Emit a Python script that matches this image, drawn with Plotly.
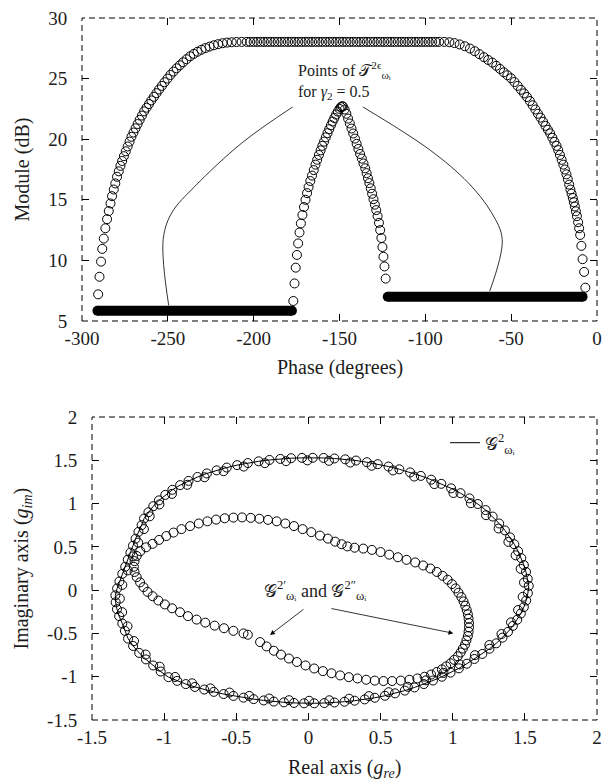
import plotly.graph_objects as go

# ---------------- Top panel data: Module (dB) vs Phase (degrees) ----------------
arc_left_phase = [-290.6, -289.8, -288.9, -288.2, -287.3, -286.4, -285.4, -284.4, -283.4, -282.5,
                  -281.5, -280.6, -279.6, -278.6, -277.6, -276.6, -275.6, -274.5, -273.4, -272.3,
                  -271.2, -270.0, -268.8, -267.6, -266.4, -265.1, -263.8, -262.4, -261.0, -259.6,
                  -258.1, -256.6, -255.1, -253.5, -251.9, -250.2, -248.5, -246.7, -244.9, -243.0,
                  -241.1, -239.1, -237.0, -234.9, -232.7, -230.4, -228.1, -225.7, -223.2, -220.7,
                  -218.1, -215.5, -212.8, -210.0, -207.0]
arc_left_module = [7.2, 8.65, 9.9, 10.95, 11.8, 12.65, 13.4, 14.07, 14.7, 15.3,
                   15.85, 16.35, 16.9, 17.35, 17.8, 18.2, 18.6, 19.0, 19.4, 19.8,
                   20.2, 20.55, 20.9, 21.25, 21.6, 21.95, 22.3, 22.6, 22.9, 23.2,
                   23.5, 23.8, 24.1, 24.4, 24.7, 25.0, 25.3, 25.58, 25.85, 26.1,
                   26.35, 26.6, 26.84, 27.04, 27.22, 27.38, 27.52, 27.64, 27.75, 27.84,
                   27.92, 27.97, 28.0, 28.02, 28.03]
arc_top_phase = [-204, -202, -200, -198, -196, -194, -192, -190, -188, -186, -184, -182, -180, -178,
                 -176, -174, -172, -170, -168, -166, -164, -162, -160, -158, -156, -154, -152, -150,
                 -148, -146, -144, -142, -140, -138, -136, -134, -132, -130, -128, -126, -124, -122,
                 -120, -118, -116, -114, -112, -110, -108, -106, -104, -102, -100, -98, -96, -94, -92]
arc_top_module = [28.03, 28.03, 28.03, 28.03, 28.03, 28.03, 28.03, 28.03, 28.03, 28.03, 28.03, 28.03,
                  28.03, 28.03, 28.03, 28.03, 28.03, 28.03, 28.03, 28.03, 28.03, 28.03, 28.03, 28.03,
                  28.03, 28.03, 28.03, 28.03, 28.03, 28.03, 28.03, 28.03, 28.03, 28.03, 28.03, 28.03,
                  28.03, 28.03, 28.03, 28.03, 28.03, 28.03, 28.03, 28.03, 28.03, 28.03, 28.03, 28.03,
                  28.03, 28.03, 28.03, 28.03, 28.03, 28.03, 28.03, 28.03, 28.03]
arc_right_phase = [-89.0, -86.0, -83.0, -80.0, -77.0, -74.0, -71.2, -68.5, -65.9, -63.4,
                   -61.0, -58.7, -56.5, -54.3, -52.2, -50.1, -48.1, -46.2, -44.3, -42.5,
                   -40.8, -39.1, -37.5, -35.9, -34.4, -32.9, -31.4, -30.0, -28.6, -27.3,
                   -26.0, -24.8, -23.6, -22.6, -21.6, -20.6, -19.6, -18.7, -17.8, -17.0,
                   -16.2, -15.5, -14.8, -14.1, -13.5, -12.9, -12.3, -11.7, -11.0, -10.4,
                   -9.8, -9.1, -8.4, -7.5, -6.8]
arc_right_module = [28.03, 28.0, 27.93, 27.82, 27.67, 27.48, 27.26, 27.02, 26.77, 26.54,
                    26.32, 26.06, 25.8, 25.52, 25.28, 25.03, 24.72, 24.4, 24.08, 23.78,
                    23.48, 23.15, 22.8, 22.45, 22.1, 21.78, 21.44, 21.1, 20.78, 20.48,
                    20.12, 19.78, 19.45, 19.1, 18.7, 18.3, 17.9, 17.5, 17.1, 16.7,
                    16.25, 15.85, 15.5, 15.15, 14.8, 14.45, 14.05, 13.65, 13.15, 12.65,
                    12.1, 11.2, 10.1, 9.05, 7.75]

peak_left_phase = [-176.9, -176.2, -175.5, -174.8, -174.1, -173.3, -172.5, -171.6, -170.7, -169.8,
                   -168.9, -168.0, -167.0, -166.0, -165.0, -164.0, -163.0, -162.0, -161.0, -160.0,
                   -159.0, -158.0, -157.0, -156.0, -155.0, -154.0, -153.0, -152.0, -151.0, -150.0,
                   -149.2, -148.5]
peak_left_module = [6.65, 8.1, 9.4, 10.45, 11.4, 12.3, 13.05, 13.75, 14.4, 15.0,
                    15.55, 16.05, 16.55, 17.0, 17.45, 17.9, 18.3, 18.7, 19.08, 19.45,
                    19.8, 20.15, 20.5, 20.83, 21.15, 21.46, 21.75, 22.03, 22.28, 22.5,
                    22.65, 22.72]
peak_right_phase = [-148.0, -147.0, -146.0, -145.0, -144.0, -143.0, -142.0, -141.0, -140.0, -139.0,
                    -138.0, -137.0, -136.0, -135.0, -134.2, -133.4, -132.6, -131.8, -131.0, -130.2,
                    -129.4, -128.6, -127.8, -127.0, -126.3, -125.6, -125.0, -124.4, -123.8, -123.1]
peak_right_module = [22.7, 22.45, 22.1, 21.7, 21.3, 20.88, 20.47, 20.05, 19.62, 19.2,
                     18.78, 18.4, 18.0, 17.6, 17.2, 16.78, 16.38, 15.95, 15.5, 15.05,
                     14.6, 14.15, 13.65, 13.1, 12.5, 11.85, 11.1, 10.3, 9.5, 8.5]

band_low_phase = [-291.0, -177.7]
band_low_module = [5.85, 5.85]
band_high_phase = [-121.9, -8.4]
band_high_module = [7.0, 7.0]

leader_left_phase = [-177.3, -206.8, -234.1, -247.7, -252.7, -249.5]
leader_left_module = [22.66, 19.7, 16.13, 13.93, 11.73, 6.29]
leader_right_phase = [-136.4, -97.7, -75.0, -61.4, -55.2, -62.5]
leader_right_module = [22.66, 19.15, 16.4, 13.93, 11.73, 7.47]

top_xticks = [-300, -250, -200, -150, -100, -50, 0]
top_xtext = ["-300", "-250", "-200", "-150", "-100", "-50", "0"]
top_yticks = [5, 10, 15, 20, 25, 30]
top_ytext = ["5", "10", "15", "20", "25", "30"]

# ---------------- Bottom panel data ----------------
ring_re = [1.527, 1.520, 1.508, 1.493, 1.475, 1.453, 1.427, 1.397, 1.362, 1.322,
           1.277, 1.228, 1.174, 1.116, 1.054, 0.989, 0.921, 0.851, 0.779, 0.705,
           0.630, 0.555, 0.480, 0.405, 0.330, 0.255, 0.180, 0.105, 0.030, -0.045,
           -0.120, -0.195, -0.270, -0.345, -0.420, -0.494, -0.566, -0.636, -0.704, -0.769,
           -0.831, -0.889, -0.943, -0.992, -1.036, -1.075, -1.109, -1.139, -1.156, -1.178,
           -1.198, -1.216, -1.234, -1.252, -1.270, -1.290, -1.310, -1.326, -1.338, -1.336,
           -1.327, -1.312, -1.290, -1.272, -1.250, -1.215, -1.173, -1.126, -1.076, -1.024,
           -0.970, -0.910, -0.850, -0.787, -0.722, -0.656, -0.588, -0.520, -0.450, -0.380,
           -0.310, -0.240, -0.170, -0.100, -0.030, 0.040, 0.110, 0.180, 0.250, 0.320,
           0.390, 0.460, 0.530, 0.600, 0.668, 0.735, 0.800, 0.863, 0.925, 0.985,
           1.043, 1.098, 1.150, 1.205, 1.255, 1.302, 1.345, 1.383, 1.417, 1.447,
           1.472, 1.493, 1.509, 1.521]
ring_im = [0.05, 0.13, 0.21, 0.29, 0.37, 0.45, 0.53, 0.61, 0.69, 0.77,
           0.85, 0.925, 0.995, 1.06, 1.12, 1.176, 1.228, 1.276, 1.32, 1.36,
           1.396, 1.428, 1.455, 1.478, 1.497, 1.511, 1.521, 1.527, 1.529, 1.528,
           1.524, 1.516, 1.504, 1.488, 1.468, 1.444, 1.416, 1.384, 1.348, 1.307,
           1.262, 1.213, 1.159, 1.1, 1.037, 0.97, 0.9, 0.827, 0.751, 0.673,
           0.594, 0.514, 0.433, 0.352, 0.27, 0.188, 0.10, 0.02, -0.06, -0.14,
           -0.22, -0.30, -0.385, -0.47, -0.56, -0.645, -0.725, -0.80, -0.87, -0.94,
           -1.005, -1.048, -1.085, -1.118, -1.148, -1.175, -1.2, -1.222, -1.242, -1.259,
           -1.274, -1.287, -1.296, -1.303, -1.307, -1.307, -1.304, -1.298, -1.289, -1.277,
           -1.262, -1.243, -1.22, -1.192, -1.16, -1.124, -1.085, -1.044, -1.0, -0.953,
           -0.903, -0.85, -0.795, -0.737, -0.677, -0.614, -0.549, -0.482, -0.413, -0.342,
           -0.27, -0.196, -0.12, -0.035]

# second (inner) row of circles along the outer curve
ring2_re = [1.494, 1.471, 1.436, 1.386, 1.318, 1.231, 1.126, 1.005, 0.873, 0.733,
            0.586, 0.438, 0.290, 0.142, -0.007, -0.155, -0.302, -0.448, -0.588, -0.720,
            -0.840, -0.946, -1.033, -1.100, -1.140, -1.180, -1.216, -1.252, -1.290, -1.307,
            -1.291, -1.254, -1.209, -1.128, -1.031, -0.924, -0.806, -0.679, -0.547, -0.410,
            -0.272, -0.134, 0.005, 0.145, 0.282, 0.419, 0.556, 0.689, 0.815, 0.936,
            1.049, 1.154, 1.254, 1.338, 1.404, 1.453, 1.485]
ring2_im = [0.088, 0.246, 0.402, 0.557, 0.712, 0.866, 1.004, 1.122, 1.225, 1.312,
            1.383, 1.437, 1.474, 1.494, 1.499, 1.490, 1.467, 1.428, 1.374, 1.304,
            1.217, 1.112, 0.990, 0.853, 0.705, 0.549, 0.390, 0.228, 0.060, -0.098,
            -0.254, -0.418, -0.588, -0.744, -0.884, -1.003, -1.076, -1.135, -1.183, -1.222,
            -1.252, -1.271, -1.278, -1.272, -1.254, -1.224, -1.179, -1.117, -1.042, -0.956,
            -0.858, -0.751, -0.634, -0.507, -0.372, -0.230, -0.077]

loop_re = [-0.335, -0.29, -0.24, -0.19, -0.135, -0.08, -0.02, 0.04, 0.10, 0.16,
           0.22, 0.28, 0.34, 0.40, 0.46, 0.52, 0.58, 0.64, 0.70, 0.755,
           0.805, 0.85, 0.89, 0.925, 0.955, 0.985, 1.01, 1.035, 1.055, 1.07,
           1.085, 1.095, 1.105, 1.11, 1.113, 1.113, 1.11, 1.105, 1.097, 1.087,
           1.075, 1.06, 1.04, 1.02, 0.995, 0.965, 0.93, 0.89, 0.845, 0.795,
           0.74, 0.68, 0.62, 0.56, 0.50, 0.44, 0.38, 0.32, 0.27, 0.23,
           0.185, 0.135, 0.08, 0.02, -0.04, -0.10, -0.16, -0.22, -0.28, -0.34,
           -0.40, -0.46, -0.52, -0.58, -0.64, -0.70, -0.76, -0.82, -0.88, -0.935,
           -0.985, -1.035, -1.08, -1.125, -1.165, -1.19, -1.205, -1.21, -1.205, -1.19,
           -1.167, -1.143, -1.115, -1.08, -1.04, -0.995, -0.945, -0.89, -0.835, -0.775,
           -0.715, -0.65, -0.585, -0.52, -0.45, -0.42]
loop_im = [-0.60, -0.65, -0.70, -0.745, -0.79, -0.83, -0.87, -0.905, -0.935, -0.96,
           -0.985, -1.005, -1.02, -1.035, -1.045, -1.05, -1.05, -1.045, -1.035, -1.02,
           -1.0, -0.975, -0.945, -0.915, -0.88, -0.845, -0.805, -0.765, -0.72, -0.675,
           -0.63, -0.58, -0.53, -0.48, -0.43, -0.38, -0.33, -0.28, -0.23, -0.18,
           -0.13, -0.08, -0.03, 0.02, 0.07, 0.12, 0.165, 0.21, 0.25, 0.285,
           0.32, 0.35, 0.38, 0.41, 0.44, 0.465, 0.48, 0.49, 0.505, 0.53,
           0.56, 0.595, 0.63, 0.67, 0.705, 0.74, 0.77, 0.795, 0.812, 0.825,
           0.835, 0.84, 0.838, 0.83, 0.815, 0.795, 0.77, 0.74, 0.705, 0.665,
           0.625, 0.58, 0.535, 0.495, 0.45, 0.395, 0.335, 0.27, 0.21, 0.15,
           0.09, 0.035, -0.02, -0.07, -0.12, -0.165, -0.21, -0.255, -0.30, -0.34,
           -0.375, -0.41, -0.44, -0.47, -0.50, -0.515]

arrow_tail_re = [-0.024, 0.149]
arrow_tail_im = [-0.209, -0.209]
arrow_head_re = [-0.266, 1.004]
arrow_head_im = [-0.517, -0.498]

bot_xticks = [-1.5, -1, -0.5, 0, 0.5, 1, 1.5, 2]
bot_xtext = ["-1.5", "-1", "-0.5", "0", "0.5", "1", "1.5", "2"]
bot_yticks = [-1.5, -1, -0.5, 0, 0.5, 1, 1.5, 2]
bot_ytext = ["-1.5", "-1", "-0.5", "0", "0.5", "1", "1.5", "2"]

# ---------------- Figure ----------------
# the page body has an 8px margin, so the figure is sized to end at the window edge
OFF = 8
W, H = 614 - OFF, 781 - OFF
FONT = "Liberation Serif, DejaVu Serif, serif"
INK = "#1c1c1c"

def px_x(p):
    return (p - OFF) / W

def px_y(p):
    return 1 - (p - OFF) / H

top_dom_x = [px_x(82), px_x(597)]
top_dom_y = [px_y(321), px_y(18)]
bot_dom_x = [px_x(92), px_x(597)]
bot_dom_y = [px_y(720), px_y(417)]

fig = go.Figure()

circ = dict(symbol="circle-open", size=9, color="black", line=dict(width=1, color="black"))

for xs, ys in [(arc_left_phase, arc_left_module), (arc_top_phase, arc_top_module),
               (arc_right_phase, arc_right_module), (peak_left_phase, peak_left_module),
               (peak_right_phase, peak_right_module)]:
    fig.add_trace(go.Scatter(x=xs, y=ys, mode="markers", marker=circ, showlegend=False,
                             xaxis="x", yaxis="y"))

for xs, ys in [(band_low_phase, band_low_module), (band_high_phase, band_high_module)]:
    fig.add_trace(go.Scatter(x=xs, y=ys, mode="lines+markers",
                             line=dict(color="black", width=10),
                             marker=dict(symbol="circle", size=10, color="black"),
                             showlegend=False, xaxis="x", yaxis="y"))

for xs, ys in [(leader_left_phase, leader_left_module), (leader_right_phase, leader_right_module)]:
    fig.add_trace(go.Scatter(x=xs, y=ys, mode="lines",
                             line=dict(color="black", width=0.8, shape="spline", smoothing=1.0),
                             showlegend=False, xaxis="x", yaxis="y"))

fig.add_trace(go.Scatter(x=ring_re + ring_re[:1], y=ring_im + ring_im[:1], mode="lines",
                         line=dict(color="black", width=1),
                         name="𝒢<sup>2</sup><sub>ωᵢ</sub>", showlegend=True,
                         xaxis="x2", yaxis="y2"))
for xs, ys in [(ring_re, ring_im), (ring2_re, ring2_im), (loop_re, loop_im)]:
    fig.add_trace(go.Scatter(x=xs, y=ys, mode="markers", marker=circ, showlegend=False,
                             xaxis="x2", yaxis="y2"))

tickfont = dict(family=FONT, size=19, color=INK)

def axis(domain, rng, tv, tt, anchor, standoff):
    return dict(domain=domain, range=rng, tickvals=tv, ticktext=tt, anchor=anchor,
                ticks="inside", ticklen=7, tickwidth=1, tickcolor="black",
                showline=True, linecolor="rgba(0,0,0,0)", mirror="ticks",
                showgrid=False, zeroline=False, automargin=False,
                ticklabeloverflow="allow",
                tickfont=tickfont, ticklabelstandoff=standoff)

fig.update_layout(
    width=W, height=H,
    margin=dict(l=0, r=0, t=0, b=0),
    paper_bgcolor="white", plot_bgcolor="white",
    xaxis=axis(top_dom_x, [-300, 0], top_xticks, top_xtext, "y", 0),
    yaxis=axis(top_dom_y, [5, 30], top_yticks, top_ytext, "x", 10),
    xaxis2=axis(bot_dom_x, [-1.5, 2], bot_xticks, bot_xtext, "y2", 0),
    yaxis2=axis(bot_dom_y, [-1.5, 2], bot_yticks, bot_ytext, "x2", 10),
    legend=dict(x=px_x(445), y=px_y(443), xanchor="left", yanchor="middle",
                bgcolor="rgba(0,0,0,0)", borderwidth=0,
                font=dict(family=FONT, size=18, color=INK)),
    font=dict(family=FONT, color=INK),
)

for xr, yr in [("x", "y"), ("x2", "y2")]:
    fig.add_shape(type="rect", xref=f"{xr} domain", yref=f"{yr} domain",
                  x0=0, x1=1, y0=0, y1=1,
                  line=dict(color="black", width=1, dash="6px,4px"))

titlefont = dict(family=FONT, size=20, color=INK)
fig.add_annotation(text="Phase (degrees)", xref="paper", yref="paper",
                   x=(top_dom_x[0] + top_dom_x[1]) / 2, y=px_y(367),
                   showarrow=False, font=titlefont, xanchor="center", yanchor="middle")
fig.add_annotation(text="Module (dB)", xref="paper", yref="paper",
                   x=px_x(22), y=(top_dom_y[0] + top_dom_y[1]) / 2, textangle=-90,
                   showarrow=False, font=titlefont, xanchor="center", yanchor="middle")
fig.add_annotation(text="Real axis (<i>g</i><sub><i>re</i></sub>)", xref="paper", yref="paper",
                   x=(bot_dom_x[0] + bot_dom_x[1]) / 2, y=px_y(768),
                   showarrow=False, font=titlefont, xanchor="center", yanchor="middle")
fig.add_annotation(text="Imaginary axis (<i>g</i><sub><i>im</i></sub>)", xref="paper", yref="paper",
                   x=px_x(22), y=(bot_dom_y[0] + bot_dom_y[1]) / 2, textangle=-90,
                   showarrow=False, font=titlefont, xanchor="center", yanchor="middle")

fig.add_annotation(text="Points of 𝒯<sup>2ϵ</sup><sub>ωᵢ</sub><br>for <i>γ</i><sub>2</sub> = 0.5",
                   xref="x", yref="y", x=-175.5, y=24.85, xanchor="left", yanchor="middle",
                   align="left", showarrow=False,
                   font=dict(family=FONT, size=16, color=INK))

fig.add_annotation(text="𝒢<sup>2′</sup><sub>ωᵢ</sub> and 𝒢<sup>2″</sup><sub>ωᵢ</sub>",
                   xref="x2", yref="y2", x=0.045, y=0.0, xanchor="center", yanchor="middle",
                   showarrow=False, font=dict(family=FONT, size=18, color=INK))

for i in range(2):
    fig.add_annotation(xref="x2", yref="y2", axref="x2", ayref="y2",
                       x=arrow_head_re[i], y=arrow_head_im[i],
                       ax=arrow_tail_re[i], ay=arrow_tail_im[i],
                       text="", showarrow=True, arrowhead=2, arrowsize=1.2,
                       arrowwidth=0.8, arrowcolor="black")

fig.write_html("out.html")
